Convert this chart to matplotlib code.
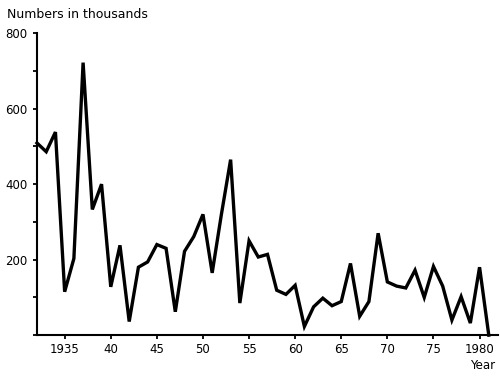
import matplotlib
matplotlib.use("Agg")
from matplotlib.pyplot import figure
from matplotlib.ticker import MultipleLocator, NullFormatter

# yearly values, numbers in thousands
years = list(range(1932, 1982))
numbers = [509, 486, 538, 115, 203, 722, 333, 400, 128, 238,
           36, 180, 194, 240, 230, 62, 222, 261, 320, 165,
           320, 465, 85, 250, 207, 214, 119, 108, 132, 23,
           75, 98, 78, 89, 190, 50, 89, 270, 141, 130,
           125, 172, 100, 182, 130, 40, 102, 32, 180, 0]

xticks = [1935, 1940, 1945, 1950, 1955, 1960, 1965, 1970, 1975, 1980]
xticklabels = ['1935', '40', '45', '50', '55', '60', '65', '70', '75', '1980']
yticks = [200, 400, 600, 800]

fg = figure(figsize=(5, 3.77), dpi=100)
ax = fg.add_axes([0.074, 0.111, 0.922, 0.801])

ax.plot(years, numbers, color='k', lw=2.4, solid_joinstyle='miter', clip_on=False)

ax.set_xlim(1932, 1982)
ax.set_ylim(0, 800)
for s in ('top', 'right'):
    ax.spines[s].set_visible(False)
for s in ('left', 'bottom'):
    ax.spines[s].set_linewidth(1.5)

ax.set_xticks(xticks)
ax.set_xticklabels(xticklabels)
ax.set_yticks(yticks)
ax.yaxis.set_minor_locator(MultipleLocator(100))
ax.yaxis.set_minor_formatter(NullFormatter())
ax.tick_params(which='both', direction='out', length=3, width=1.3,
               labelsize=8.5, pad=4)
ax.tick_params(axis='x', pad=3)

fg.text(0.014, 0.952, 'Numbers in thousands', fontsize=9, va='baseline', ha='left')
fg.text(0.99, 0.022, 'Year', fontsize=8.5, va='baseline', ha='right')

fg.savefig('out.png', dpi=100)
